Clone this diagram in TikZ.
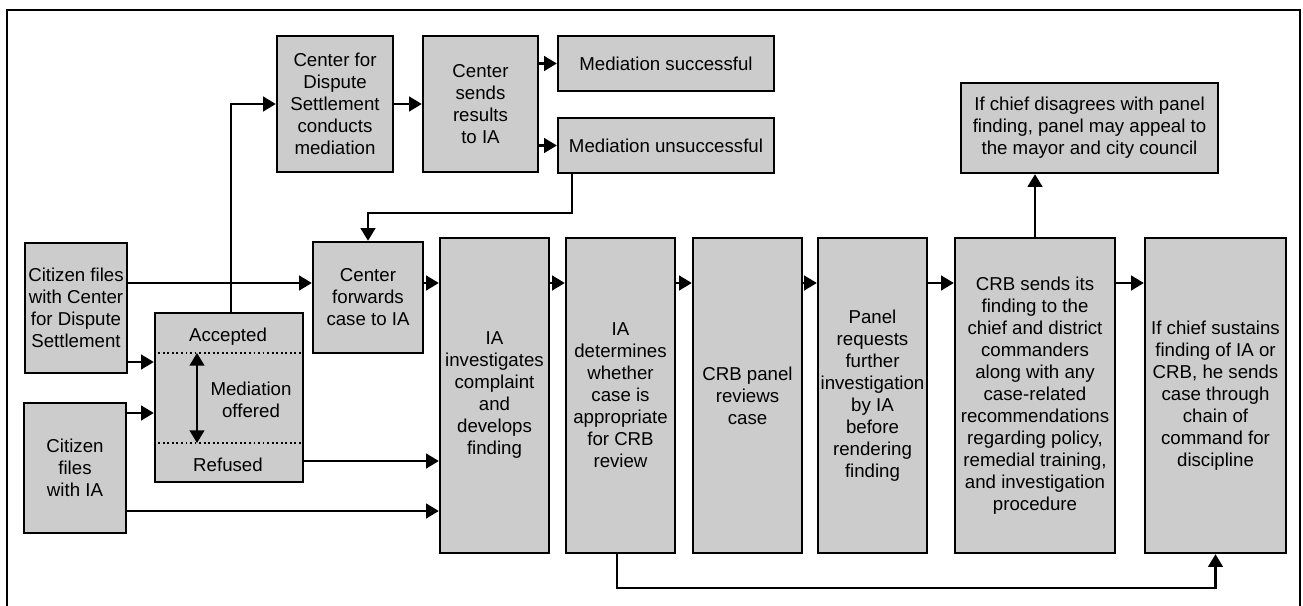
\documentclass[tikz,border=0pt]{standalone}
\usepackage{fontspec}
\setmainfont{Liberation Sans}
\usetikzlibrary{arrows.meta}
\definecolor{boxgray}{RGB}{204,204,204}
\begin{document}
\begin{tikzpicture}[x=0.75pt,y=-0.75pt,
  box/.style={draw, line width=1.8pt, fill=boxgray, inner sep=0pt, align=center,
    font=\fontsize{14pt}{16.5pt}\selectfont},
  txt/.style={inner sep=0pt, align=center, font=\fontsize{14pt}{16.5pt}\selectfont},
  arr/.style={line width=1.6pt, -{Triangle[length=9.5pt,width=11pt]}},
  dbl/.style={line width=1.6pt, {Triangle[length=9.5pt,width=11pt]}-{Triangle[length=9.5pt,width=11pt]}},
  sep/.style={dotted, line width=1.4pt},
  frame/.style={line width=1.6pt}]
\useasboundingbox (0,0) rectangle (1303,606);
\draw[frame] (7,606) -- (7,10) -- (1300,10) -- (1300,606);

% left column
\node[box, minimum width=76.5pt, minimum height=97.5pt] (cds) at (76,308)
  {Citizen files\\with Center\\for Dispute\\Settlement};
\node[box, minimum width=76.5pt, minimum height=97.5pt] (cia) at (75,468)
  {Citizen\\files\\with IA};

% mediation offered box
\node[box, minimum width=111pt, minimum height=126.75pt] (med) at (229,397.5) {};
\node[txt] (acc) at (228,337) {Accepted};
\node[txt] (ref) at (228,465) {Refused};
\node[txt] (mo) at (251,400) {Mediation\\offered};
\draw[sep] (med.west |- 0,353) -- (med.east |- 0,353);
\draw[sep] (med.west |- 0,443) -- (med.east |- 0,443);
\coordinate (da1) at (197,353);
\coordinate (da2) at (197,443);
\draw[dbl] (da1) -- (da2);

% top row
\node[box, minimum width=82.5pt, minimum height=83.25pt] (cf) at (368,297.5)
  {Center\\forwards\\case to IA};
\node[box, minimum width=87pt, minimum height=102pt] (cdc) at (335,104)
  {Center for\\Dispute\\Settlement\\conducts\\mediation};
\node[box, minimum width=86.25pt, minimum height=102pt] (cs) at (480.5,104)
  {Center\\sends\\results\\to IA};
\node[box, minimum width=162pt, minimum height=41.25pt] (ms) at (666,63.5)
  {Mediation successful};
\node[box, minimum width=162pt, minimum height=41.25pt] (mu) at (666,145.5)
  {Mediation unsuccessful};

% main row
\node[box, minimum width=81.75pt, minimum height=236.25pt] (iai) at (494.5,395.5)
  {IA\\investigates\\complaint\\and\\develops\\finding};
\node[box, minimum width=81.75pt, minimum height=236.25pt] (iad) at (620.5,395.5)
  {IA\\determines\\whether\\case is\\appropriate\\for CRB\\review};
\node[box, minimum width=81.75pt, minimum height=236.25pt] (crb) at (747.5,395.5)
  {CRB panel\\reviews\\case};
\node[box, minimum width=81.75pt, minimum height=236.25pt] (pr) at (872.5,395.5)
  {Panel\\requests\\further\\investigation\\by IA\\before\\rendering\\finding};
\node[box, minimum width=120pt, minimum height=236.25pt] (cs2) at (1035,395.5)
  {CRB sends its\\finding to the\\chief and district\\commanders\\along with any\\case-related\\recommendations\\regarding policy,\\remedial training,\\and investigation\\procedure};
\node[box, minimum width=105.75pt, minimum height=236.25pt] (ch) at (1215.5,395.5)
  {If chief sustains\\finding of IA or\\CRB, he sends\\case through\\chain of\\command for\\discipline};
\node[box, minimum width=192.75pt, minimum height=67.5pt] (ap) at (1089.5,128)
  {If chief disagrees with panel\\finding, panel may appeal to\\the mayor and city council};

% connectors
\coordinate (r1) at (0,283);
\draw[arr] (cds.east |- r1) -- (cf.west |- r1);
\draw[arr] (cds.east |- 0,362) -- (med.west |- 0,362);
\draw[arr] (cia.east |- 0,413) -- (med.west |- 0,413);
\draw[arr] (med.north -| 231,0) |- (cdc.west);
\draw[arr] (cdc.east) -- (cs.west);
\draw[arr] (cs.east |- ms.west) -- (ms.west);
\draw[arr] (cs.east |- mu.west) -- (mu.west);
\draw[arr] (mu.south -| 572,0) -- (572,213) -| (cf.north);
\draw[arr] (cf.east |- r1) -- (iai.west |- r1);
\draw[arr] (med.east |- 0,461) -- (iai.west |- 0,461);
\draw[arr] (cia.east |- 0,511) -- (iai.west |- 0,511);
\draw[arr] (iai.east |- r1) -- (iad.west |- r1);
\draw[arr] (iad.east |- r1) -- (crb.west |- r1);
\draw[arr] (crb.east |- r1) -- (pr.west |- r1);
\draw[arr] (pr.east |- r1) -- (cs2.west |- r1);
\draw[arr] (cs2.east |- r1) -- (ch.west |- r1);
\draw[arr] (cs2.north) -- (cs2.north |- ap.south);
\draw[arr] (iad.south -| 617,0) -- (617,588) -| (ch.south);
\end{tikzpicture}
\end{document}
